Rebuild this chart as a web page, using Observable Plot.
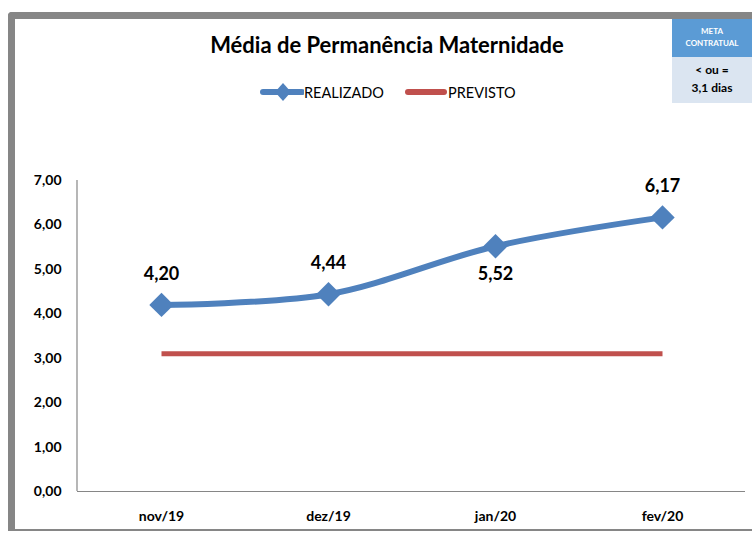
<!DOCTYPE html>
<html><head><meta charset="utf-8">
<script src="https://cdn.jsdelivr.net/npm/d3@7"></script>
<script src="https://cdn.jsdelivr.net/npm/@observablehq/plot@0.6"></script>
<style>
html,body{margin:0;padding:0;background:#fff;}
#wrap{position:relative;width:752px;height:534px;overflow:hidden;font-family:Lato,"Open Sans",sans-serif;}
#frame{position:absolute;left:8px;top:12px;width:760px;height:519px;border-left:7px solid #868686;border-top:7px solid #868686;border-bottom:2px solid #868686;border-top-left-radius:4px;box-sizing:border-box;}
#title{position:absolute;left:0;width:774px;top:31px;text-align:center;font-weight:bold;font-size:22px;color:#000;}
#legend{position:absolute;top:82px;left:258px;font-size:14.5px;display:flex;align-items:center;color:#000;}
#meta{position:absolute;left:672px;top:19px;width:80px;height:84px;}
#meta .a{background:#5b9bd5;height:38px;color:#fff;font-size:8px;font-weight:bold;text-align:center;line-height:12px;padding-top:6px;box-sizing:border-box;}
#meta .b{background:#dbe5f1;height:46px;color:#000;font-size:12px;font-weight:bold;text-align:center;line-height:18px;padding-top:4px;box-sizing:border-box;}
#chart{position:absolute;left:0;top:0;}
</style></head>
<body>
<div id="wrap">
<div id="frame"></div>
<div id="chart"></div>
<div id="title">Média de Permanência Maternidade</div>
<div id="legend"></div>
<div id="meta"><div class="a">META<br>CONTRATUAL</div><div class="b">&lt; ou =<br>3,1 dias</div></div>
</div>
<script>
const categories = ["nov/19", "dez/19", "jan/20", "fev/20"];
const realizado = [4.20, 4.44, 5.52, 6.17];
const previsto = [3.1, 3.1, 3.1, 3.1];
const yTicks = [0, 1, 2, 3, 4, 5, 6, 7];
const labelBelow = [false, false, true, false];

const blue = "#4f81bd", red = "#c0504d";
const fmt = v => v.toFixed(2).replace(".", ",");
const rows = categories.map((c, i) => ({cat: c, r: realizado[i], p: previsto[i], below: labelBelow[i]}));

const leg = document.getElementById("legend");
leg.innerHTML = `
<svg width="46" height="20"><line x1="5" y1="10" x2="44" y2="10" stroke="${blue}" stroke-width="6" stroke-linecap="round"/><path d="M25,1 L33,10 L25,19 L17,10Z" fill="${blue}"/></svg><span style="margin-right:20px">REALIZADO</span>
<svg width="44" height="20"><line x1="4" y1="10" x2="40" y2="10" stroke="${red}" stroke-width="6" stroke-linecap="round"/></svg><span>PREVISTO</span>`;

const chart = Plot.plot({
  width: 752, height: 534,
  marginLeft: 77, marginRight: 7, marginTop: 180, marginBottom: 43,
  style: {background: "transparent", fontFamily: "Lato, 'Open Sans', sans-serif"},
  x: {type: "point", domain: categories, padding: 0.5, label: null},
  y: {domain: [0, 7], ticks: yTicks, label: null},
  marks: [
    Plot.ruleY([0], {stroke: "#868686", strokeWidth: 1.2}),
    Plot.axisY({ticks: yTicks, tickFormat: fmt, tickSize: 0, tickPadding: 16, fontSize: 14, fontWeight: "bold", fill: "#000"}),
    Plot.axisX({tickSize: 0, tickPadding: 20, fontSize: 14, fontWeight: "bold", fill: "#000"}),
    Plot.line(rows, {x: "cat", y: "p", stroke: red, strokeWidth: 5, strokeLinecap: "butt"}),
    Plot.line(rows, {x: "cat", y: "r", stroke: blue, strokeWidth: 6, curve: "catmull-rom"}),
    Plot.dot(rows, {x: "cat", y: "r", symbol: "diamond2", r: 11, fill: blue, stroke: "none"}),
    Plot.text(rows, {x: "cat", y: "r", text: d => fmt(d.r), fontSize: 18, fontWeight: "bold", fill: "#000",
      filter: d => !d.below, dy: -31}),
    Plot.text(rows, {x: "cat", y: "r", text: d => fmt(d.r), fontSize: 18, fontWeight: "bold", fill: "#000",
      filter: d => d.below, dy: 28})
  ]
});
document.getElementById("chart").appendChild(chart);
const svg = d3.select(chart);
const y = chart.scale("y");
svg.append("line").attr("x1", 77).attr("x2", 77).attr("y1", y.apply(7)).attr("y2", y.apply(0)).attr("stroke", "#868686").attr("stroke-width", 1.2);
</script>
</body></html>
